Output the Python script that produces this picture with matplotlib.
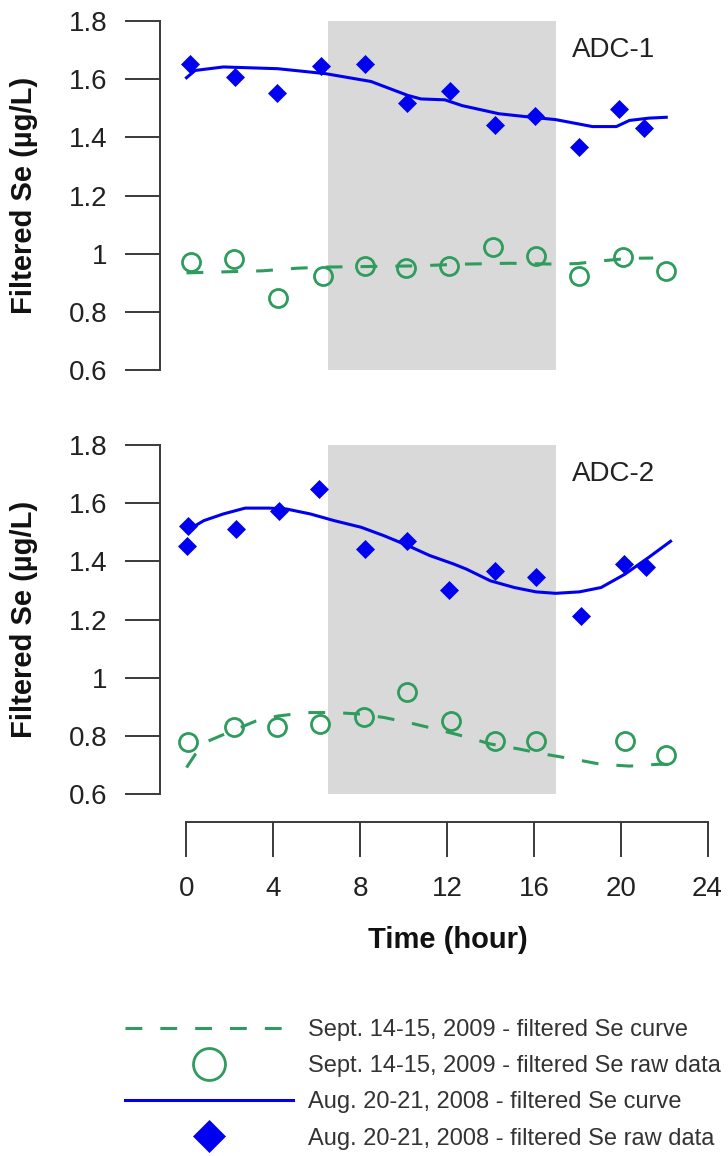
import matplotlib
matplotlib.use("Agg")
import matplotlib.pyplot as plt

plt.rcParams['font.family'] = ['Liberation Sans', 'DejaVu Sans']

# ---------------- data ----------------
# ADC-1, Aug. 20-21, 2008 raw samples
adc1_aug_hours = [0.17, 2.24, 4.15, 6.2, 8.22, 10.18, 12.16, 14.19, 16.04, 18.06, 19.94, 21.09]
adc1_aug_se = [1.651, 1.609, 1.553, 1.644, 1.651, 1.519, 1.561, 1.444, 1.472, 1.368, 1.497, 1.433]
# ADC-1, Aug. 20-21, 2008 fitted curve
adc1_aug_curve_hours = [0, 0.4, 1.7, 4.2, 6.4, 8.5, 10.2, 10.8, 11.9, 12.7, 14.4, 15.9, 17.0,
                        18.7, 19.8, 20.4, 21.3, 22.1]
adc1_aug_curve_se = [1.605, 1.630, 1.642, 1.636, 1.619, 1.592, 1.544, 1.532, 1.529, 1.509, 1.481,
                     1.469, 1.461, 1.437, 1.437, 1.458, 1.466, 1.469]
# ADC-1, Sept. 14-15, 2009 raw samples
adc1_sep_hours = [0.21, 2.19, 4.2, 6.28, 8.2, 10.1, 12.1, 14.1, 16.1, 18.06, 20.1, 22.1]
adc1_sep_se = [0.970, 0.981, 0.849, 0.924, 0.956, 0.952, 0.956, 1.024, 0.993, 0.924, 0.989, 0.941]
# ADC-1, Sept. 14-15, 2009 fitted curve
adc1_sep_curve_hours = [0, 2.0, 3.5, 5.1, 6.5, 8.5, 10.6, 12.7, 14.9, 17.0, 18.0, 19.1, 20.4, 21.5]
adc1_sep_curve_se = [0.934, 0.938, 0.941, 0.950, 0.954, 0.956, 0.958, 0.964, 0.967, 0.964, 0.966,
                     0.975, 0.984, 0.985]

# ADC-2, Aug. 20-21, 2008 raw samples
adc2_aug_hours = [0.06, 0.02, 2.3, 4.26, 6.09, 8.22, 10.18, 12.1, 14.2, 16.1, 18.17, 20.15, 21.15]
adc2_aug_se = [1.523, 1.454, 1.511, 1.574, 1.649, 1.442, 1.469, 1.301, 1.368, 1.345, 1.213, 1.391, 1.382]
# ADC-2, Aug. 20-21, 2008 fitted curve
adc2_aug_curve_hours = [0, 0.8, 1.7, 2.7, 3.8, 4.6, 5.7, 6.8, 8.05, 9.1, 10.2, 11.2, 12.3, 12.9,
                        14.0, 15.1, 16.1, 17.0, 18.1, 19.1, 20.2, 21.3, 22.3]
adc2_aug_curve_se = [1.505, 1.540, 1.563, 1.583, 1.583, 1.580, 1.563, 1.540, 1.517, 1.488, 1.454,
                     1.420, 1.391, 1.373, 1.333, 1.310, 1.295, 1.290, 1.295, 1.310, 1.356, 1.414, 1.469]
# ADC-2, Sept. 14-15, 2009 raw samples
adc2_sep_hours = [0.06, 2.19, 4.17, 6.13, 8.16, 10.18, 12.2, 14.2, 16.08, 20.2, 22.1]
adc2_sep_se = [0.778, 0.832, 0.829, 0.841, 0.864, 0.950, 0.852, 0.783, 0.783, 0.781, 0.735]
# ADC-2, Sept. 14-15, 2009 fitted curve
adc2_sep_curve_hours = [0, 0.4, 1.0, 2.1, 3.2, 4.2, 5.5, 6.8, 8.0, 9.1, 10.2, 11.5, 12.7, 14.0,
                        15.3, 16.5, 17.9, 19.1, 20.4, 21.7, 22.2]
adc2_sep_curve_se = [0.691, 0.736, 0.782, 0.817, 0.851, 0.868, 0.880, 0.880, 0.875, 0.863, 0.846,
                     0.823, 0.800, 0.772, 0.755, 0.737, 0.719, 0.702, 0.696, 0.702, 0.702]

night_start, night_end = 6.5, 17.0
y_ticks = [0.6, 0.8, 1.0, 1.2, 1.4, 1.6, 1.8]
y_tick_labels = ['0.6', '0.8', '1', '1.2', '1.4', '1.6', '1.8']
x_ticks = [0, 4, 8, 12, 16, 20, 24]
legend_labels = ['Sept. 14-15, 2009 - filtered Se curve',
                 'Sept. 14-15, 2009 - filtered Se raw data',
                 'Aug. 20-21, 2008 - filtered Se curve',
                 'Aug. 20-21, 2008 - filtered Se raw data']

# ---------------- style ----------------
GREEN = '#2e9c5c'
BLUE = '#0000f0'
SHADE = '#d9d9d9'
AXC = '#3a3a3a'
TXT = '#222222'

W, H = 728, 1156
fig = plt.figure(figsize=(W / 100, H / 100), dpi=100)
fig.patch.set_facecolor('white')


def box(x0, y0, x1, y1):
    """Pixel box (top-left origin) to figure fraction rect."""
    return [x0 / W, 1 - y1 / H, (x1 - x0) / W, (y1 - y0) / H]


X0_PX, X24_PX = 186.5, 707.5
PX_PER_H = (X24_PX - X0_PX) / 24.0
AX_LEFT_PX, AX_RIGHT_PX = 160, 728
xlim = ((AX_LEFT_PX - X0_PX) / PX_PER_H, (AX_RIGHT_PX - X0_PX) / PX_PER_H)

panels = [
    dict(top=21, bottom=370, name='ADC-1',
         sep=(adc1_sep_hours, adc1_sep_se), sep_c=(adc1_sep_curve_hours, adc1_sep_curve_se),
         aug=(adc1_aug_hours, adc1_aug_se), aug_c=(adc1_aug_curve_hours, adc1_aug_curve_se)),
    dict(top=445, bottom=794, name='ADC-2',
         sep=(adc2_sep_hours, adc2_sep_se), sep_c=(adc2_sep_curve_hours, adc2_sep_curve_se),
         aug=(adc2_aug_hours, adc2_aug_se), aug_c=(adc2_aug_curve_hours, adc2_aug_curve_se)),
]

handles = None
for p in panels:
    ax = fig.add_axes(box(AX_LEFT_PX, p['top'], AX_RIGHT_PX, p['bottom']))
    ax.set_facecolor('none')
    ax.axvspan(night_start, night_end, color=SHADE, lw=0, zorder=0)
    h_sep_raw, = ax.plot(*p['sep'], ls='none', marker='o', ms=13, mfc='none', mec=GREEN,
                         mew=2.0, zorder=2)
    h_sep_c, = ax.plot(*p['sep_c'], color=GREEN, lw=2.2, dashes=(5.5, 5.9), zorder=3)
    h_aug_raw, = ax.plot(*p['aug'], ls='none', marker='D', ms=9.2, mfc=BLUE, mec=BLUE,
                         mew=0.5, zorder=2)
    h_aug_c, = ax.plot(*p['aug_c'], color=BLUE, lw=2.2, zorder=3)
    if handles is None:
        handles = [h_sep_c, h_sep_raw, h_aug_c, h_aug_raw]

    ax.set_xlim(*xlim)
    ax.set_ylim(0.6, 1.8)
    ax.set_xticks([])
    ax.set_yticks(y_ticks)
    ax.set_yticklabels(y_tick_labels)
    for s in ['top', 'right', 'bottom']:
        ax.spines[s].set_visible(False)
    ax.spines['left'].set_color(AXC)
    ax.spines['left'].set_linewidth(1.4)
    ax.tick_params(axis='y', length=25, width=1.4, color=AXC, pad=13,
                   labelsize=20, labelcolor=TXT)
    ymid = (p['top'] + p['bottom']) / 2
    fig.text(24 / W, 1 - ymid / H, 'Filtered Se (µg/L)', rotation=90, ha='center',
             va='center', fontsize=21, fontweight='bold', color='#111111')
    fig.text(572 / W, 1 - (p['top'] + 29) / H, p['name'], ha='left', va='center',
             fontsize=20, color=TXT)

# shared time axis
axx = fig.add_axes(box(X0_PX, 800, X24_PX, 822))
axx.set_facecolor('none')
axx.set_xlim(0, 24)
axx.set_yticks([])
axx.set_xticks(x_ticks)
axx.set_xticklabels([str(t) for t in x_ticks])
for s in ['top', 'right', 'left']:
    axx.spines[s].set_visible(False)
axx.spines['bottom'].set_color(AXC)
axx.spines['bottom'].set_linewidth(1.4)
axx.tick_params(axis='x', length=25, width=1.4, color=AXC, pad=14,
                labelsize=20, labelcolor=TXT)
fig.text(448 / W, 1 - 940 / H, 'Time (hour)', ha='center', va='center', fontsize=21,
         fontweight='bold', color='#111111')

fig.legend(handles, legend_labels, loc='upper left',
           bbox_to_anchor=(125 / W, 1 - 1019 / H), frameon=False, fontsize=17,
           handlelength=7.1, handletextpad=0.64, labelspacing=0.6, markerscale=1.77,
           borderpad=0, borderaxespad=0, labelcolor='#333333')

fig.savefig('out.png', dpi=100, facecolor='white')
